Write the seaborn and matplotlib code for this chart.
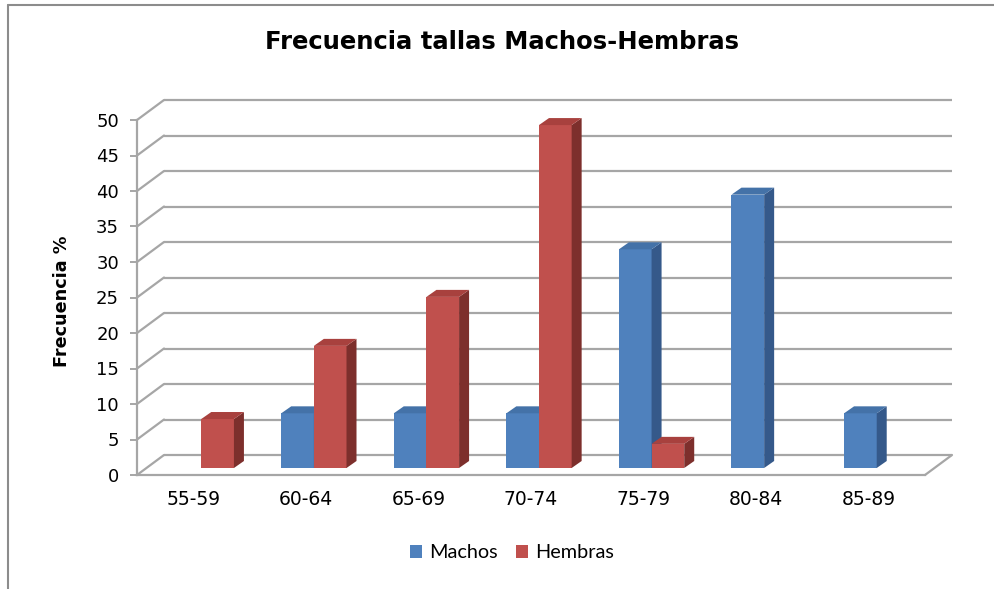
import numpy as np
import pandas as pd
import matplotlib
matplotlib.use('Agg')
import matplotlib.pyplot as plt
from matplotlib.patches import Polygon, Patch
from matplotlib.lines import Line2D
import seaborn as sns

# datos (porcentaje por clase de talla)
tallas = ['55-59', '60-64', '65-69', '70-74', '75-79', '80-84', '85-89']
machos = [0, 7.7, 7.7, 7.7, 30.8, 38.5, 7.7]
hembras = [6.9, 17.2, 24.1, 48.3, 3.4, 0, 0]
yticks = [0, 5, 10, 15, 20, 25, 30, 35, 40, 45, 50]

azul, azul_lado, azul_top = '#4f81bd', '#35598a', '#4472a8'
rojo, rojo_lado, rojo_top = '#c0504d', '#7d2f2c', '#a8413e'
gris = '#a6a6a6'

df = pd.DataFrame({
    'talla': tallas * 2,
    'frecuencia': machos + hembras,
    'sexo': ['Machos'] * len(tallas) + ['Hembras'] * len(tallas),
})

sns.set_style('white')
plt.rcParams['font.family'] = ['DejaVu Sans']
plt.rcParams['text.color'] = 'black'

W, H = 995, 589
fig = plt.figure(figsize=(W / 100, H / 100), dpi=100)
ax_l, ax_r, ax_b, ax_t = 137, 925, 475, 120  # pixeles
ax = fig.add_axes([ax_l / W, 1 - ax_b / H, (ax_r - ax_l) / W, (ax_b - ax_t) / H])

sns.barplot(data=df, x='talla', y='frecuencia', hue='sexo', palette=[azul, rojo],
            width=0.58, ax=ax, legend=False, saturation=1, edgecolor='none')

ax.set_xlim(-0.5, 6.5)
ax.set_ylim(0, 50)

# conversion pixeles -> unidades de datos
px_x = (ax_r - ax_l) / 7
px_y = (ax_b - ax_t) / 50
gdx, gdy = 27 / px_x, 20 / px_y      # pared del fondo
bdx, bdy = 8 / px_x, 7 / px_y        # posicion de las barras
sdx, sdy = 10 / px_x, 7 / px_y       # profundidad de la barra

# rejilla 3D
for v in yticks:
    ax.plot([-0.5 + gdx, 6.5 + gdx], [v + gdy, v + gdy], color=gris, lw=1.6,
            zorder=0.5, clip_on=False, solid_capstyle='butt')
    ax.plot([-0.5, -0.5 + gdx], [v, v + gdy], color=gris, lw=1.6, zorder=0.5, clip_on=False)
ax.plot([6.5, 6.5 + gdx], [0, gdy], color=gris, lw=1.6, zorder=0.5, clip_on=False)

# caras laterales y superiores
colores = [(azul_lado, azul_top), (rojo_lado, rojo_top)]
for i, (cont, (c_lado, c_top)) in enumerate(zip(ax.containers, colores)):
    for bar in cont:
        h = bar.get_height()
        x0 = bar.get_x() + bdx
        w = bar.get_width()
        bar.set_x(x0)
        bar.set_y(bdy)
        bar.set_zorder(2 + i)
        bar.set_clip_on(False)
        if h <= 0:
            bar.set_visible(False)
            continue
        y0, y1 = bdy, bdy + h
        lado = Polygon([(x0 + w, y0), (x0 + w + sdx, y0 + sdy), (x0 + w + sdx, y1 + sdy), (x0 + w, y1)],
                       closed=True, facecolor=c_lado, edgecolor='none', zorder=2 + i, clip_on=False)
        top = Polygon([(x0, y1), (x0 + sdx, y1 + sdy), (x0 + w + sdx, y1 + sdy), (x0 + w, y1)],
                      closed=True, facecolor=c_top, edgecolor='none', zorder=2 + i, clip_on=False)
        ax.add_patch(lado)
        ax.add_patch(top)

for s in ['top', 'right']:
    ax.spines[s].set_visible(False)
for s in ['left', 'bottom']:
    ax.spines[s].set_color(gris)
    ax.spines[s].set_linewidth(1.6)
    ax.spines[s].set_zorder(0.6)

ax.set_yticks(yticks)
ax.tick_params(axis='y', length=5, width=1.4, color=gris, pad=8, labelsize=13, left=True,
               labelcolor='black')
ax.tick_params(axis='x', length=0, pad=11, labelsize=13.5, labelcolor='black')
ax.set_xlabel('')
ax.set_ylabel('')

fig.text(502 / W, 1 - 49 / H, 'Frecuencia tallas Machos-Hembras', ha='center', va='baseline',
         fontsize=17.5, fontweight='bold', color='black')
fig.text(62 / W, 1 - 301 / H, 'Frecuencia %', ha='center', va='center', rotation=90,
         fontsize=12.7, fontweight='bold', color='black')

handles = [Patch(facecolor=azul, edgecolor='none'), Patch(facecolor=rojo, edgecolor='none')]
leg = fig.legend(handles, ['Machos', 'Hembras'], loc='center', bbox_to_anchor=(512 / W, 1 - 553 / H),
                 ncol=2, frameon=False, handlelength=0.6, handleheight=0.6, handletextpad=0.35,
                 columnspacing=0.9, prop={'family': 'Lato', 'size': 14.3})
for t in leg.get_texts():
    t.set_color('black')

# marco del grafico
fig.add_artist(Line2D([8 / W, 1], [1 - 5 / H, 1 - 5 / H], color='#8c8c8c', lw=1.5))
fig.add_artist(Line2D([8 / W, 8 / W], [0, 1 - 5 / H], color='#8c8c8c', lw=1.5))

fig.savefig('out.png', dpi=100)
